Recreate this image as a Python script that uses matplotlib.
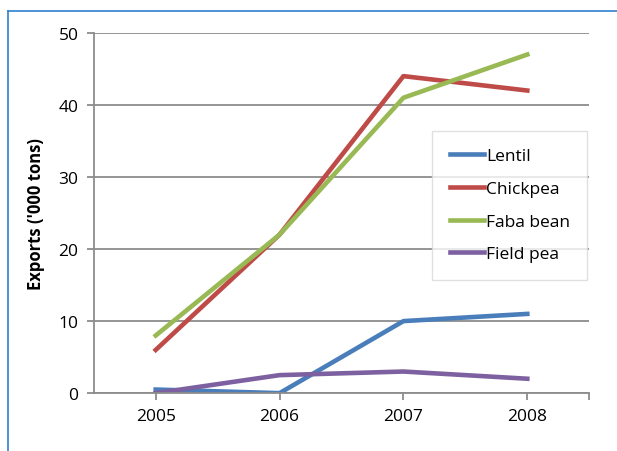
import numpy as np
import matplotlib.pyplot as plt
from matplotlib.lines import Line2D

# data
years = ["2005", "2006", "2007", "2008"]
lentil = [0.5, 0, 10, 11]
chickpea = [6, 22, 44, 42]
faba_bean = [8, 22, 41, 47]
field_pea = [0, 2.5, 3, 2]

plt.rcParams['font.family'] = ['Open Sans', 'DejaVu Sans']

fig = plt.figure(figsize=(6.17, 4.52), dpi=100)
ax = fig.add_axes([0.152, 0.128, 0.803, 0.797])

x = np.arange(len(years))
ax.plot(x, lentil, color="#4a7ebb", lw=3.3, label="Lentil")
ax.plot(x, chickpea, color="#be4b48", lw=3.3, label="Chickpea")
ax.plot(x, faba_bean, color="#98b954", lw=3.3, label="Faba bean")
ax.plot(x, field_pea, color="#7d60a0", lw=3.3, label="Field pea")

ax.set_xlim(-0.5, 3.5)
ax.set_ylim(0, 50)
ax.set_yticks([0, 10, 20, 30, 40, 50])
ax.set_xticks(x)
ax.set_xticklabels(years)
ax.set_xticks([3.5], minor=True)
ax.tick_params(axis="both", labelsize=12.5, color="#8c8c8c", width=1.3, length=5, pad=6)
ax.tick_params(axis="x", which="minor", color="#8c8c8c", width=1.3, length=5)
ax.yaxis.grid(True, color="#8c8c8c", lw=1.3)
ax.set_axisbelow(True)
for s in ["top", "right"]:
    ax.spines[s].set_visible(False)
for s in ["left", "bottom"]:
    ax.spines[s].set_color("#8c8c8c")
    ax.spines[s].set_linewidth(1.3)

ax.set_ylabel("Exports ('000 tons)", fontsize=12, fontweight="bold", labelpad=10)

leg = ax.legend(loc="upper left", bbox_to_anchor=(0.683, 0.728), fontsize=12.5,
                frameon=True, fancybox=False, edgecolor="#d9d9d9",
                handlelength=2.0, handletextpad=0.1, labelspacing=0.95,
                borderpad=1.0, borderaxespad=0)
leg.get_frame().set_linewidth(1.0)

# blue border of the picture
fig.add_artist(Line2D([8 / 617, 1], [1 - 12 / 452, 1 - 12 / 452], color="#2f7fd0", lw=1.2))
fig.add_artist(Line2D([8 / 617, 8 / 617], [0, 1 - 12 / 452], color="#2f7fd0", lw=1.2))

plt.savefig("out.png", dpi=100)
